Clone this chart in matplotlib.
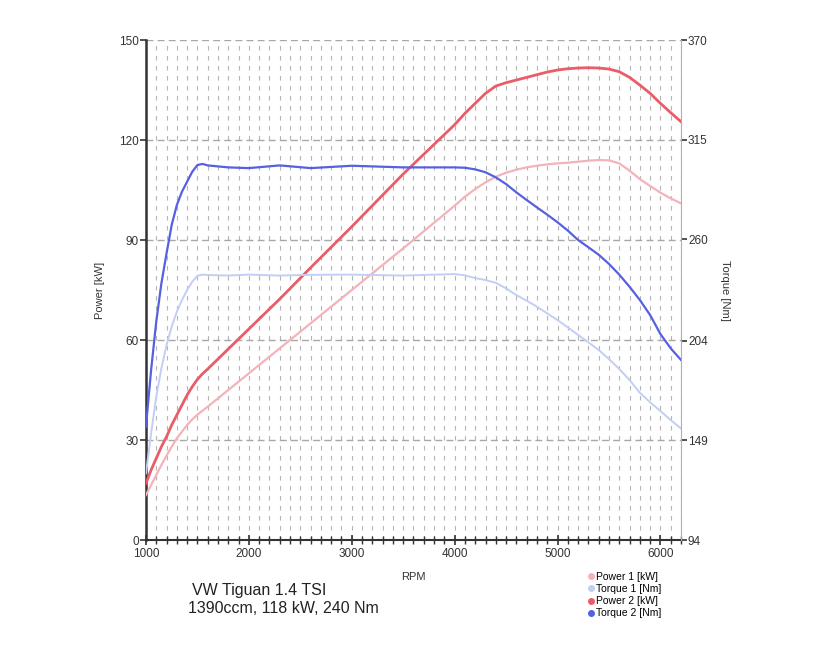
import matplotlib.pyplot as plt
import numpy as np
from matplotlib.lines import Line2D
from matplotlib.ticker import MultipleLocator

plt.rcParams['font.family'] = ['Liberation Sans', 'DejaVu Sans']

rpm = [1000, 1050, 1100, 1150, 1200, 1250, 1300, 1350, 1400, 1450, 1500, 1550, 1600,
       1800, 2000, 2300, 2600, 3000, 3500,
       4000, 4100, 4200, 4300, 4400, 4500, 4600, 4700, 4800, 4900, 5000, 5100,
       5200, 5300, 5400, 5500, 5600, 5700, 5800, 5900, 6000, 6100, 6200]
power1 = [13.5, 16.5, 19.5, 22.5, 25.3, 28, 30.5, 32.5, 34.5, 36.2, 37.6, 38.8, 40,
          45, 50, 57.5, 65, 75, 87.5,
          100.3, 103, 105.3, 107.3, 109, 110.2, 111.1, 111.8, 112.3, 112.7, 113, 113.2,
          113.5, 113.8, 114, 113.9, 113, 110.8, 108.3, 106.2, 104.2, 102.5, 101]
power2 = [17, 21, 24.5, 28, 31, 34.5, 37.5, 40.5, 43.5, 46, 48.2, 49.9, 51.3,
          57.3, 63.3, 72.3, 81.7, 94, 109.8,
          124.6, 128, 131, 134, 136.2, 137.2, 138, 138.8, 139.6, 140.4, 141, 141.4,
          141.6, 141.7, 141.6, 141.3, 140.5, 138.8, 136.5, 134, 131, 128.2, 125.5]
torque1 = [130.8, 152.9, 173.1, 188.8, 201.6, 211.8, 220, 226.5, 232, 236.6, 239.9, 240.5, 240.3,
           240, 240.5, 240, 240.4, 240.5, 240,
           240.8, 240.1, 238.6, 237.5, 236, 232.9, 229.2, 226.1, 222.8, 219.1, 215.4, 211.4,
           207.2, 203.1, 198.9, 193.9, 188.4, 182.3, 175.3, 170, 165.2, 160.2, 155.6]
torque2 = [156.6, 187.8, 214.5, 235.7, 252.2, 267.9, 278.9, 286.3, 291.8, 297.3, 301, 301.6, 300.8,
           299.7, 299.3, 300.8, 299.3, 300.6, 299.7,
           299.7, 299.5, 298.6, 297, 294.2, 290.5, 285.9, 281.7, 277.6, 273.6, 269.4, 264.8,
           259.6, 255.6, 251.5, 246.4, 240.5, 233.8, 226.5, 218.2, 207.7, 199.8, 193.4]

c_p1 = '#f3b3b9'
c_t1 = '#c3cef4'
c_p2 = '#e95c68'
c_t2 = '#5561e0'

fig = plt.figure(figsize=(8.2, 6.5), dpi=100)
ax = fig.add_axes([0.178, 0.1692, 0.6525, 0.7692])
ax2 = ax.twinx()

ax.set_xlim(1000, 6200)
ax.set_ylim(0, 150)
ax2.set_ylim(94, 370)

# grid
ax.xaxis.set_minor_locator(MultipleLocator(100))
ax.set_xticks([1000, 2000, 3000, 4000, 5000, 6000])
ax.set_yticks([0, 30, 60, 90, 120, 150])
ax2.set_yticks([94, 149, 204, 260, 315, 370])
ax.grid(which='both', axis='x', color='#b4b4b4', linestyle=(0, (4, 5)), linewidth=0.8)
ax.grid(which='major', axis='y', color='#a8a8a8', linestyle=(0, (5, 3)), linewidth=1.0)

ax.plot(rpm, power1, color=c_p1, lw=1.6, zorder=3)
ax2.plot(rpm, torque1, color=c_t1, lw=1.4, zorder=3)
ax.plot(rpm, power2, color=c_p2, lw=2.0, zorder=4)
ax2.plot(rpm, torque2, color=c_t2, lw=1.6, zorder=4)

for a in (ax, ax2):
    a.spines['top'].set_visible(False)
ax.spines['left'].set_color('#333333')
ax.spines['left'].set_linewidth(1.8)
ax.spines['bottom'].set_color('#333333')
ax.spines['bottom'].set_linewidth(1.5)
ax2.spines['left'].set_visible(False)
ax2.spines['bottom'].set_visible(False)
ax2.spines['right'].set_color('#b0b0b0')
ax.spines['right'].set_visible(False)

ax.tick_params(axis='x', which='major', direction='inout', length=7, width=1.2, colors='#333333', labelsize=8.5, pad=2)
ax.tick_params(axis='x', which='minor', direction='inout', length=6, width=1, color='#333333')
ax.tick_params(axis='y', direction='out', length=4, width=1.2, colors='#333333', labelsize=8.5, pad=1)
ax2.tick_params(axis='y', direction='out', length=4, width=1.2, colors='#333333', labelsize=8.5, pad=1)

ax.set_xlabel('RPM', fontsize=8, color='#333333', labelpad=9)
ax.set_ylabel('Power [kW]', fontsize=8, color='#333333', labelpad=10)
ax2.set_ylabel('Torque [Nm]', fontsize=8, color='#333333', rotation=270, labelpad=16)

fig.text(0.234, 0.092, 'VW Tiguan 1.4 TSI', fontsize=11.5, color='#222222', va='center')
fig.text(0.229, 0.064, '1390ccm, 118 kW, 240 Nm', fontsize=11.5, color='#222222', va='center')

names = ['Power 1 [kW]', 'Torque 1 [Nm]', 'Power 2 [kW]', 'Torque 2 [Nm]']
cols = [c_p1, c_t1, c_p2, c_t2]
handles = [Line2D([], [], marker='o', ls='none', color=c, markersize=4) for c in cols]
fig.legend(handles, names, loc='upper left', bbox_to_anchor=(0.708, 0.128), frameon=False,
           fontsize=7.5, handletextpad=0.0, labelspacing=0.2, handlelength=1.0, borderpad=0)

fig.savefig('out.png', dpi=100, facecolor='white')
